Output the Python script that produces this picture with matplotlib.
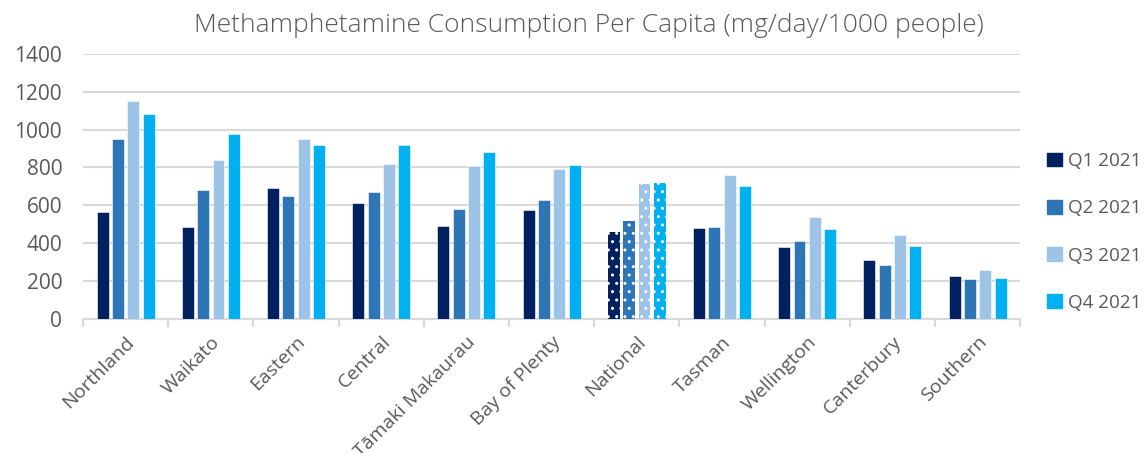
import matplotlib.pyplot as plt
import numpy as np

plt.rcParams['font.family'] = ['Open Sans', 'DejaVu Sans']

regions = ['Northland', 'Waikato', 'Eastern', 'Central', 'Tāmaki Makaurau',
           'Bay of Plenty', 'National', 'Tasman', 'Wellington', 'Canterbury', 'Southern']
quarters = ['Q1 2021', 'Q2 2021', 'Q3 2021', 'Q4 2021']

q1 = [565, 488, 694, 613, 491, 574, 458, 479, 379, 310, 227]
q2 = [950, 680, 648, 669, 581, 629, 516, 486, 412, 284, 210]
q3 = [1150, 842, 953, 819, 806, 792, 711, 761, 541, 442, 261]
q4 = [1085, 979, 918, 918, 884, 812, 717, 701, 474, 386, 217]

colors = ['#002060', '#2E75B6', '#9DC3E6', '#00B0F0']
grey = '#595959'

fig = plt.figure(figsize=(11.45, 4.53), dpi=100)
ax = fig.add_axes([0.0725, 0.296, 0.8185, 0.585])

x = np.arange(len(regions))
pitch = 0.18
width = 0.14
national = regions.index('National')

for k, (vals, c, lab) in enumerate(zip([q1, q2, q3, q4], colors, quarters)):
    pos = x + (k - 1.5) * pitch
    bars = ax.bar(pos, vals, width, color=c, label=lab, zorder=3,
                  edgecolor='white', linewidth=0.4)
    # the National group is drawn with white dots
    b = bars[national]
    b.set_hatch('..')
    b.set_edgecolor('white')
    b.set_linewidth(0)

ax.set_xlim(-0.5, len(regions) - 0.5)
ax.set_ylim(0, 1400)
ax.set_yticks(range(0, 1401, 200))
ax.yaxis.grid(True, color='#D9D9D9', linewidth=1.5, zorder=0)
ax.tick_params(axis='y', length=0, labelsize=15, labelcolor=grey, pad=15)

ax.set_xticks(x)
ax.set_xticklabels(regions, rotation=45, ha='right', va='top',
                   rotation_mode='anchor', fontsize=14, color=grey)
ax.tick_params(axis='x', which='major', length=0, pad=10)
ax.set_xticks(np.arange(-0.5, len(regions)), minor=True)
ax.tick_params(axis='x', which='minor', length=6, width=1.5, color='#D9D9D9')

for s in ['top', 'right', 'left']:
    ax.spines[s].set_visible(False)
ax.spines['bottom'].set_color('#D9D9D9')
ax.spines['bottom'].set_linewidth(1.5)

fig.text(589 / 1145, 1 - 25 / 453, 'Methamphetamine Consumption Per Capita (mg/day/1000 people)',
         ha='center', va='center', fontsize=19, color=grey, fontweight='light')

handles = [plt.Rectangle((0, 0), 1, 1, color=c) for c in colors]
leg = fig.legend(handles, quarters, loc='center left', bbox_to_anchor=(1038 / 1145, 1 - 232 / 453),
                 frameon=False, fontsize=13.6, handlelength=0.75, handleheight=0.75,
                 handletextpad=0.35, labelspacing=1.55, borderpad=0)
for t in leg.get_texts():
    t.set_color(grey)

fig.savefig('out.png', dpi=100)
